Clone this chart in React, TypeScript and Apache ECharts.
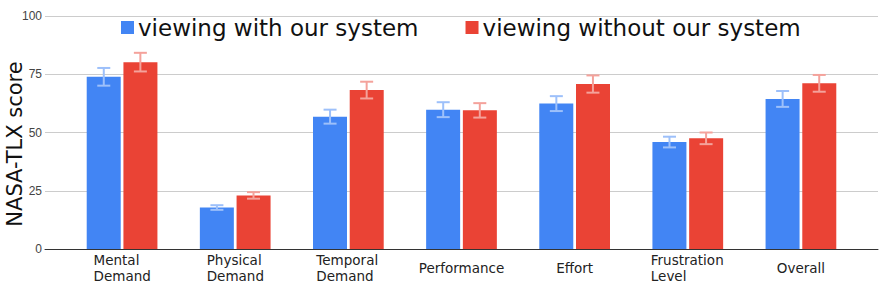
import React, { useEffect, useRef } from "react";
import * as echarts from "echarts";

const categories = ["Mental\nDemand", "Physical\nDemand", "Temporal\nDemand", "Performance", "Effort", "Frustration\nLevel", "Overall"];
const seriesNames = ["viewing with our system", "viewing without our system"];
const withSystem = [73.9, 17.8, 56.8, 59.8, 62.4, 45.9, 64.4];
const withSystemErr = [3.8, 1.0, 3.0, 3.2, 3.2, 2.3, 3.4];
const withoutSystem = [80.2, 23.0, 68.2, 59.5, 70.8, 47.5, 71.1];
const withoutSystemErr = [4.0, 1.4, 3.6, 3.1, 3.7, 2.5, 3.6];
const yTicks = [0, 25, 50, 75, 100];
const yTitle = "NASA-TLX score";

const FONT = "DejaVu Sans, Verdana, sans-serif";
const TICK_FONT = "Liberation Sans, Arial, Helvetica, sans-serif";
const BLUE = "#4285F4";
const RED = "#EA4335";
const BLUE_ERR = "#9dc0fa";
const RED_ERR = "#f4a29b";
const labelWidths: Record<number, number> = { 0: 57, 1: 57, 2: 64, 5: 74 };

export default function App() {
  const ref = useRef<HTMLDivElement>(null);
  useEffect(() => {
    document.body.style.margin = "0";
    const chart = echarts.init(ref.current!, undefined, { renderer: "svg" });
    const barW = 34;
    const gap = 2.6;
    const off = (barW + gap) / 2;
    const errSeries = (vals: number[], errs: number[], color: string, dx: number, name: string) => ({
      type: "custom",
      name,
      xAxisIndex: 1,
      yAxisIndex: 1,
      z: 10,
      silent: true,
      data: vals.map((v, i) => [i, v - errs[i], v + errs[i]]),
      renderItem: (params: any, api: any) => {
        const i = api.value(0);
        const lo = api.coord([i, api.value(1)]);
        const hi = api.coord([i, api.value(2)]);
        const x = lo[0] + dx;
        const hw = 6.5;
        const style = { stroke: color, lineWidth: 2 };
        return {
          type: "group",
          children: [
            { type: "line", shape: { x1: x, y1: lo[1], x2: x, y2: hi[1] }, style },
            { type: "line", shape: { x1: x - hw, y1: lo[1], x2: x + hw, y2: lo[1] }, style },
            { type: "line", shape: { x1: x - hw, y1: hi[1], x2: x + hw, y2: hi[1] }, style },
          ],
        };
      },
    });
    const rich: Record<string, any> = {};
    Object.keys(labelWidths).forEach((k) => {
      rich["w" + k] = { width: labelWidths[+k], align: "left", fontSize: 13.5, lineHeight: 16, color: "#222", fontFamily: FONT };
    });
    chart.setOption({
      animation: false,
      textStyle: { fontFamily: FONT },
      legend: {
        data: seriesNames,
        top: 16,
        left: 121,
        padding: 0,
        itemWidth: 13,
        itemHeight: 13,
        itemGap: 47,
        icon: "rect",
        textStyle: { fontSize: 23, color: "#111", fontFamily: FONT, padding: [0, 0, 0, -1] },
      },
      grid: [
        { left: 45, width: 833, top: 16, height: 233 },
        { left: 65.5, width: 792, top: 16, height: 233 },
      ],
      xAxis: [
        {
          type: "value",
          gridIndex: 0,
          min: 0,
          max: 1,
          axisLine: { show: true, onZero: false, lineStyle: { color: "#333", width: 1 } },
          axisTick: { show: false },
          axisLabel: { show: false },
          splitLine: { show: false },
        },
        {
          type: "category",
          gridIndex: 1,
          data: categories,
          axisLine: { show: false },
          axisTick: { show: false },
          axisLabel: {
            interval: 0,
            fontSize: 13.5,
            lineHeight: 16,
            color: "#222",
            fontFamily: FONT,
            margin: 19,
            verticalAlign: "middle",
            formatter: (v: string, idx: number) => {
              if (labelWidths[idx] === undefined) return v;
              return v.split("\n").map((l) => `{w${idx}|${l}}`).join("\n");
            },
            rich,
          },
        },
      ],
      yAxis: [
        {
          type: "value",
          gridIndex: 0,
          min: yTicks[0],
          max: yTicks[yTicks.length - 1],
          interval: 25,
          axisLine: { show: false },
          axisTick: { show: false },
          axisLabel: { fontSize: 12, color: "#444", margin: 3, fontFamily: TICK_FONT },
          splitLine: { lineStyle: { color: "#cccccc", width: 1 } },
        },
        {
          type: "value",
          gridIndex: 1,
          min: 0,
          max: 100,
          interval: 25,
          show: false,
          splitLine: { show: false },
        },
      ],
      graphic: [
        {
          type: "text",
          x: 15,
          y: 144,
          rotation: Math.PI / 2,
          style: { text: yTitle, fontSize: 21, fontFamily: FONT, fill: "#111", align: "center", verticalAlign: "middle" },
        },
      ],
      series: [
        {
          name: seriesNames[0],
          type: "bar",
          xAxisIndex: 1,
          yAxisIndex: 1,
          data: withSystem,
          barWidth: barW,
          barGap: "8%",
          itemStyle: { color: BLUE },
        },
        {
          name: seriesNames[1],
          type: "bar",
          xAxisIndex: 1,
          yAxisIndex: 1,
          data: withoutSystem,
          barWidth: barW,
          barGap: "8%",
          itemStyle: { color: RED },
        },
        errSeries(withSystem, withSystemErr, BLUE_ERR, -off, "errA"),
        errSeries(withoutSystem, withoutSystemErr, RED_ERR, off, "errB"),
      ],
    });
    return () => chart.dispose();
  }, []);
  return <div ref={ref} style={{ width: 880, height: 286 }} />;
}
